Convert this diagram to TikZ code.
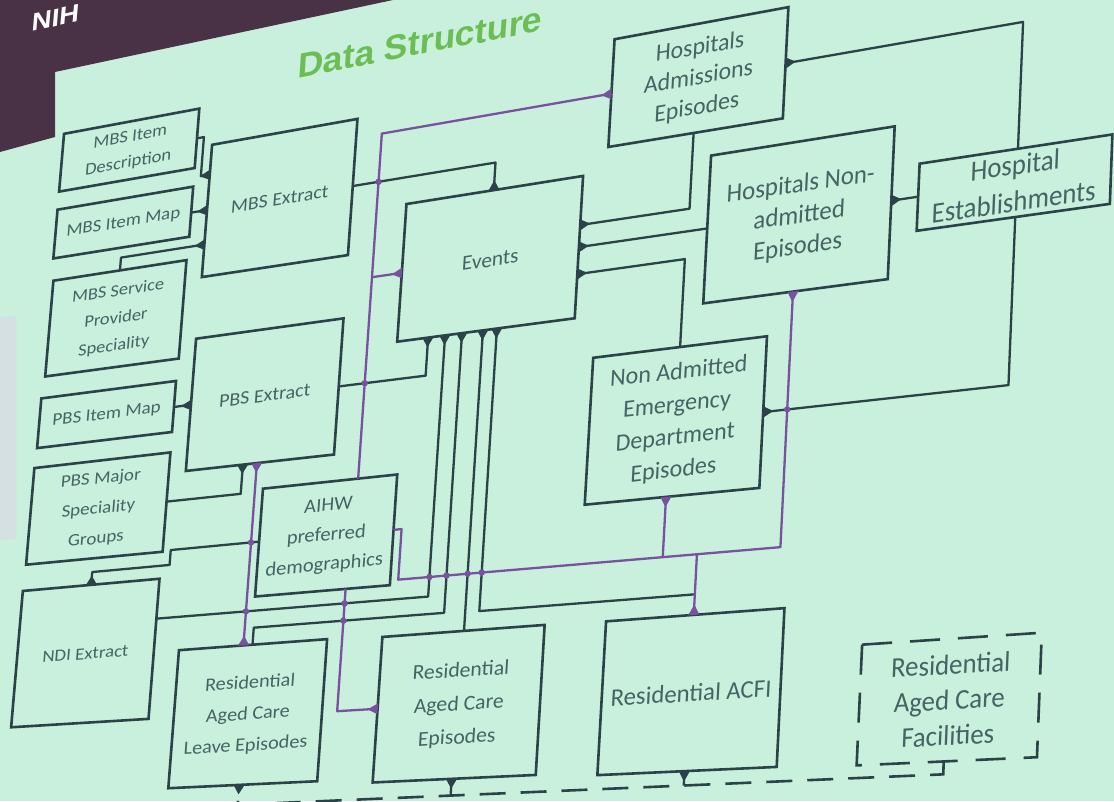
\documentclass[tikz,border=0pt]{standalone}
\usepackage{fontspec}
\setmainfont{Carlito}
\newfontfamily\headfont{Liberation Sans}
\definecolor{bg}{RGB}{200,240,220}
\definecolor{band}{RGB}{74,50,70}
\definecolor{edge}{RGB}{42,66,72}
\definecolor{txt}{RGB}{70,100,100}
\definecolor{purp}{RGB}{120,82,158}
\definecolor{titlegreen}{RGB}{108,190,84}
\definecolor{greybar}{RGB}{212,224,226}

% rectified slide coordinates (u,v) -> photo coordinates (keystone model)
\pgfkeys{/rc/.cd,u/.store in=\rcU,v/.store in=\rcV}
\makeatletter
\tikzdeclarecoordinatesystem{r}{%
  \pgfkeys{/rc/.cd,#1}%
  \pgfmathsetmacro\rcu{\rcU}%
  \pgfmathsetmacro\rcv{\rcV}%
  \pgfmathsetmacro\rcX{\rcu-(0.0787-0.0347*\rcu/1000)*(\rcv-400)}%
  \pgfmathsetmacro\rcY{801-\rcv-(-0.191+0.186*\rcv/1000)*(\rcu-557)}%
  \pgfpoint{\rcX pt}{\rcY pt}%
}
\makeatother
\newcommand\rjac[2]{%
  \pgfmathsetmacro\ja{1+0.0347*(#2-400)/1000}%
  \pgfmathsetmacro\jb{0.191-0.186*(#2)/1000}%
  \pgfmathsetmacro\jc{0.0787-0.0347*(#1)/1000}%
  \pgfmathsetmacro\jd{1+0.186*(#1-557)/1000}%
}
\newcommand\fsz[2]{\fontsize{#1pt}{#2pt}\selectfont}
\newcommand\rpt[3]{\coordinate (#1) at (r cs:u=#2,v=#3);}
\newcommand\slidebox[8][boxline]{%
  \draw[#1] (r cs:u=#3,v=#4) -- (r cs:u=#5,v=#4) -- (r cs:u=#5,v=#6) -- (r cs:u=#3,v=#6) -- cycle;
  \pgfmathsetmacro\cu{(#3+#5)/2}%
  \pgfmathsetmacro\cv{(#4+#6)/2}%
  \rjac{\cu}{\cv}%
  \node[boxtext,font=#7,cm={\ja,\jb,\jc,\jd,(0,0)}] (#2) at (r cs:u=\cu,v=\cv) {#8};
}
\newcommand\footW[3]{\fill[#3] (r cs:u=#1,v=#2-5.5) -- (r cs:u=#1,v=#2+5.5) -- (r cs:u=#1-10,v=#2) -- cycle;}
\newcommand\footE[3]{\fill[#3] (r cs:u=#1,v=#2-5.5) -- (r cs:u=#1,v=#2+5.5) -- (r cs:u=#1+10,v=#2) -- cycle;}
\newcommand\footN[3]{\fill[#3] (r cs:u=#1-5.5,v=#2) -- (r cs:u=#1+5.5,v=#2) -- (r cs:u=#1,v=#2-10) -- cycle;}
\newcommand\footS[3]{\fill[#3] (r cs:u=#1-5.5,v=#2) -- (r cs:u=#1+5.5,v=#2) -- (r cs:u=#1,v=#2+10) -- cycle;}
\newcommand\hop[2]{\fill[purp] (r cs:u=#1,v=#2) circle (3.2pt);}

\tikzset{
  boxline/.style={draw=edge,line width=2.6pt},
  dashbox/.style={draw=edge,line width=2.6pt,dash pattern=on 30pt off 18pt},
  conn/.style={draw=edge,line width=2.3pt,line join=round},
  pconn/.style={draw=purp,line width=2.3pt,line join=round},
  dconn/.style={draw=edge,line width=2.6pt,dash pattern=on 26pt off 15pt},
  boxtext/.style={align=center,inner sep=0pt,text=txt},
}

\begin{document}
\begin{tikzpicture}[x=1pt,y=1pt]
\fill[bg] (0,0) rectangle (1114,801);
\useasboundingbox (0,0) rectangle (1114,801);
% slide header band and side bar
\fill[band] (0,801) -- (393,801) -- (55,729) -- (55,664) -- (0,649) -- cycle;
\fill[greybar] (0,484) -- (16,485) -- (16,262) -- (0,261) -- cycle;
\rjac{17}{-95}
\node[font=\headfont\bfseries\fontsize{28pt}{32pt}\selectfont,text=white,inner sep=0pt,cm={\ja,\jb,\jc,\jd,(0,0)}] (nih) at (r cs:u=17,v=-95) {NIH};
\rjac{395}{12}
\node[font=\headfont\bfseries\fontsize{36pt}{40pt}\selectfont,text=titlegreen,inner sep=0pt,cm={\ja,\jb,\jc,\jd,(0,0)}] (title) at (r cs:u=395,v=12) {Data Structure};

% ---------- boxes ----------
\slidebox{desc}{36}{38}{173}{102}{\fsz{18.8}{28}}{MBS Item\\Description}
\slidebox{imap}{36}{122}{173}{176}{\fsz{19}{23}}{MBS Item Map}
\slidebox{msp}{38}{201}{172}{307}{\fsz{18.5}{30}}{MBS Service\\Provider\\Speciality}
\slidebox{mbsx}{189}{80}{336}{222}{\fsz{20}{24}}{MBS Extract}
\slidebox{pimap}{36}{331}{171}{386}{\fsz{19}{23}}{PBS Item Map}
\slidebox{pbsx}{188}{288}{336}{430}{\fsz{20}{24}}{PBS Extract}
\slidebox{pmaj}{35}{408}{171}{515}{\fsz{19}{33}}{PBS Major\\Speciality\\Groups}
\slidebox{ndi}{34}{544}{170}{695}{\fsz{18.7}{22}}{NDI Extract}
\slidebox{aihw}{267}{458}{401}{572}{\fsz{20.5}{31}}{AIHW\\preferred\\demographics}
\slidebox{racl}{195}{623}{342}{771}{\fsz{20}{33}}{Residential\\Aged Care\\Leave Episodes}
\slidebox{race}{397}{625}{558}{775}{\fsz{21.5}{34}}{Residential\\Aged Care\\Episodes}
\slidebox{acfi}{619}{626}{796}{778}{\fsz{24.5}{28}}{Residential ACFI}
\slidebox[dashbox]{fac}{875}{666}{1053}{780}{\fsz{26.5}{33}}{Residential\\Aged Care\\Facilities}
\slidebox{ev}{392}{178}{570}{320}{\fsz{21.5}{26}}{Events}
\slidebox{ha}{594}{46}{770}{153}{\fsz{24}{29.5}}{Hospitals\\Admissions\\Episodes}
\slidebox{hna}{699}{178}{884}{322}{\fsz{25}{30}}{Hospitals Non-\\admitted\\Episodes}
\slidebox{he}{911}{217}{1105}{280}{\fsz{27}{34}}{Hospital\\Establishments}
\slidebox{ed}{591}{362}{765}{508}{\fsz{24}{32}}{Non Admitted\\Emergency\\Department\\Episodes}

% ---------- connector end points ----------
\rpt{desc-e}{173}{70}\rpt{k1}{180}{70}\rpt{k2}{180}{112}\rpt{mbsx-w1}{189}{112}
\rpt{imap-e}{173}{150}\rpt{mbsx-w2}{189}{150}
\rpt{msp-n}{105}{201}\rpt{k3}{105}{187}\rpt{mbsx-w3}{189}{187}
\rpt{mbsx-e}{336}{150}\rpt{k4}{480}{150}\rpt{ev-n}{480}{178}
\rpt{aihw-n}{362}{458}\rpt{k5}{362}{100}\rpt{ha-w}{594}{100}
\rpt{k6}{362}{249}\rpt{ev-w}{392}{249}
\rpt{ha-e}{770}{100}\rpt{k7}{1010}{100}\rpt{he-n}{1010}{217}
\rpt{he-s}{1010}{280}\rpt{k8}{1010}{435}\rpt{ed-e}{765}{435}
\rpt{hna-e}{884}{248}\rpt{he-w}{911}{248}
\rpt{ha-s}{680}{153}\rpt{k9}{680}{227}\rpt{ev-e1}{570}{227}
\rpt{hna-w}{699}{249}\rpt{ev-e2}{570}{249}
\rpt{ed-n}{678}{362}\rpt{k10}{678}{276}\rpt{ev-e3}{570}{276}
\rpt{aihw-e}{401}{515}\rpt{k11}{409}{515}\rpt{k12}{409}{567}\rpt{k13}{789}{567}\rpt{hna-s}{789}{322}
\rpt{ed-s}{672}{508}\rpt{k14}{672}{567}
\rpt{acfi-n}{706}{626}\rpt{k15}{706}{567}
\rpt{pbsx-e}{336}{359}\rpt{k16}{423}{359}\rpt{ev-s1}{423}{320}
\rpt{ndi-e}{170}{587}\rpt{k17}{440}{587}\rpt{ev-s2}{440}{320}
\rpt{racl-n}{268}{623}\rpt{k18}{268}{605}\rpt{k19}{457}{605}\rpt{ev-s3}{457}{320}
\rpt{race-n}{478}{625}\rpt{ev-s4}{478}{320}
\rpt{k20}{706}{606}\rpt{k21}{492}{606}\rpt{ev-s5}{492}{320}
\rpt{pmaj-e}{171}{461}\rpt{k22}{245}{461}\rpt{pbsx-s1}{245}{430}
\rpt{pbsx-s2}{259}{430}\rpt{racl-n2}{259}{623}
\rpt{pimap-e}{171}{359}\rpt{pbsx-w}{188}{359}
\rpt{ndi-n}{102}{544}\rpt{k23}{102}{530}\rpt{k24}{179}{530}\rpt{k25}{179}{514}\rpt{aihw-w}{267}{514}
\rpt{aihw-s}{357}{572}\rpt{k26}{357}{699}\rpt{race-w}{397}{699}
\rpt{fac-s}{961}{780}\rpt{k27}{961}{792}\rpt{k28}{265}{792}\rpt{racl-s}{265}{771}
\rpt{race-s}{475}{775}\rpt{k29}{475}{792}
\rpt{acfi-s}{705}{778}\rpt{k30}{705}{792}

% ---------- connectors ----------
\draw[conn] (desc-e) -- (k1) -- (k2) -- (mbsx-w1);
\draw[conn] (imap-e) -- (mbsx-w2);
\draw[conn] (msp-n) -- (k3) -- (mbsx-w3);
\draw[conn] (mbsx-e) -- (k4) -- (ev-n);
\draw[conn] (ha-e) -- (k7) -- (he-n);
\draw[conn] (he-s) -- (k8) -- (ed-e);
\draw[conn] (hna-e) -- (he-w);
\draw[conn] (ha-s) -- (k9) -- (ev-e1);
\draw[conn] (hna-w) -- (ev-e2);
\draw[conn] (ed-n) -- (k10) -- (ev-e3);
\draw[conn] (pbsx-e) -- (k16) -- (ev-s1);
\draw[conn] (ndi-e) -- (k17) -- (ev-s2);
\draw[conn] (racl-n) -- (k18) -- (k19) -- (ev-s3);
\draw[conn] (race-n) -- (ev-s4);
\draw[conn] (k20) -- (k21) -- (ev-s5);
\draw[conn] (pmaj-e) -- (k22) -- (pbsx-s1);
\draw[conn] (pimap-e) -- (pbsx-w);
\draw[conn] (ndi-n) -- (k23) -- (k24) -- (k25) -- (aihw-w);
\draw[pconn] (aihw-n) -- (k5) -- (ha-w);
\draw[pconn] (k6) -- (ev-w);
\draw[pconn] (aihw-e) -- (k11) -- (k12) -- (k13) -- (hna-s);
\draw[pconn] (ed-s) -- (k14);
\draw[pconn] (acfi-n) -- (k15);
\draw[pconn] (pbsx-s2) -- (racl-n2);
\draw[pconn] (aihw-s) -- (k26) -- (race-w);
\draw[dconn] (fac-s) -- (k27) -- (k28) -- (racl-s);
\draw[conn] (race-s) -- (k29);
\draw[conn] (acfi-s) -- (k30);

% ---------- crow's feet ----------
\footW{189}{112}{edge}\footW{189}{150}{edge}\footW{189}{187}{edge}
\footW{188}{359}{edge}
\footS{245}{430}{edge}\footS{259}{430}{purp}
\footN{480}{178}{edge}
\footW{392}{249}{purp}
\footE{570}{227}{edge}\footE{570}{249}{edge}\footE{570}{276}{edge}
\footS{423}{320}{edge}\footS{440}{320}{edge}\footS{457}{320}{edge}\footS{478}{320}{edge}\footS{492}{320}{edge}
\footW{594}{100}{purp}
\footE{770}{100}{edge}
\footE{884}{248}{edge}
\footS{789}{322}{purp}
\footE{765}{435}{edge}
\footS{672}{508}{purp}
\footN{706}{626}{purp}
\footS{705}{778}{edge}
\footW{397}{699}{purp}
\footS{475}{775}{edge}
\footN{259}{623}{purp}
\footS{265}{771}{edge}
\footN{102}{544}{edge}

% ---------- crossing dots ----------
\hop{362}{150}\hop{362}{359}
\hop{440}{567}\hop{457}{567}\hop{478}{567}\hop{492}{567}
\hop{789}{435}
\hop{357}{587}\hop{357}{605}
\hop{259}{587}\hop{259}{514}
\end{tikzpicture}
\end{document}
